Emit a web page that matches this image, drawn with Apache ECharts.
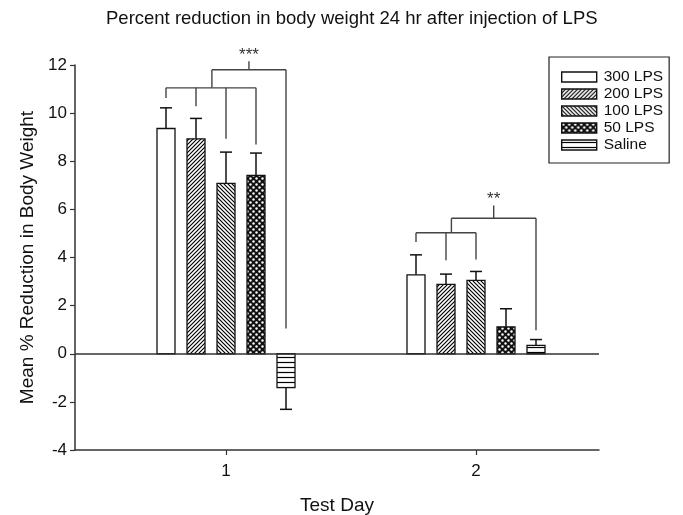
<!DOCTYPE html>
<html>
<head>
<meta charset="utf-8">
<script src="https://cdn.jsdelivr.net/npm/echarts@6/dist/echarts.min.js"></script>
<style>
  html, body { margin: 0; padding: 0; background: #fff; }
  #main { width: 683px; height: 515px; }
</style>
</head>
<body>
<div id="main"></div>
<script>
// groups and days
var days = [1, 2]
var groupNames = ['300 LPS', '200 LPS', '100 LPS', '50 LPS', 'Saline']

// mean % reduction and SEM, day 1 / day 2
var mean300 = [9.36, 3.28]
var sem300 = [0.86, 0.83]
var mean200 = [8.93, 2.88]
var sem200 = [0.85, 0.43]
var mean100 = [7.08, 3.05]
var sem100 = [1.30, 0.37]
var mean50 = [7.41, 1.12]
var sem50 = [0.93, 0.75]
var meanSaline = [-1.41, 0.35]
var semSaline = [0.90, 0.24]

// significance brackets (y values)
var sigDay = [1, 2]
var sigInner = [11.05, 5.03]
var sigOuter = [11.8, 5.63]
var sigTop = [12.16, 6.16]
var sigLegs = [[10.63, 10.29, 8.93, 8.70], [4.64, 3.89, 3.92]]
var sigSalineLeg = [1.05, 0.98]
var sigStemSlot = [1.53, 1.18]
var sigStars = ['***', '**']

var yTicks = [-4, -2, 0, 2, 4, 6, 8, 10, 12]

var SLOT = 0.12   // distance between bars, in x-axis units
var BAR_W = 18

// fill patterns
function makePattern(kind) {
  var c = document.createElement('canvas')
  var s = kind === 'dots' ? 6 : (kind === 'horiz' ? 5 : 4)
  c.width = s
  c.height = s
  var g = c.getContext('2d')
  g.fillStyle = '#fff'
  g.fillRect(0, 0, s, s)
  g.strokeStyle = '#000'
  g.lineWidth = 1.2
  if (kind === 'fwd') {
    g.beginPath()
    g.moveTo(-1, s + 1); g.lineTo(s + 1, -1)
    g.moveTo(-1, 1); g.lineTo(1, -1)
    g.moveTo(s - 1, s + 1); g.lineTo(s + 1, s - 1)
    g.stroke()
  } else if (kind === 'back') {
    g.beginPath()
    g.moveTo(-1, -1); g.lineTo(s + 1, s + 1)
    g.moveTo(s - 1, -1); g.lineTo(s + 1, 1)
    g.moveTo(-1, s - 1); g.lineTo(1, s + 1)
    g.stroke()
  } else if (kind === 'dots') {
    g.fillStyle = '#111'
    g.fillRect(0, 0, s, s)
    g.fillStyle = '#fff'
    g.beginPath(); g.arc(1.5, 1.5, 1.2, 0, Math.PI * 2); g.fill()
    g.beginPath(); g.arc(4.5, 4.5, 1.2, 0, Math.PI * 2); g.fill()
  } else if (kind === 'horiz') {
    g.beginPath()
    g.moveTo(0, 2.5); g.lineTo(s, 2.5)
    g.stroke()
  }
  return { image: c, repeat: 'repeat' }
}

var patterns = [
  '#fff',
  makePattern('fwd'),
  makePattern('back'),
  makePattern('dots'),
  makePattern('horiz')
]

var allMeans = [mean300, mean200, mean100, mean50, meanSaline]
var allSems = [sem300, sem200, sem100, sem50, semSaline]

function barRender(slot) {
  return function(params, api) {
    var day = api.value(0)
    var mean = api.value(1)
    var sem = api.value(2)
    var x = day + (slot - 2) * SLOT
    var base = api.coord([x, 0])
    var top = api.coord([x, mean])
    var errEnd = api.coord([x, mean + (mean < 0 ? -sem : sem)])
    var cx = base[0]
    return {
      type: 'group',
      children: [{
        type: 'line',
        shape: { x1: cx, y1: top[1], x2: cx, y2: errEnd[1] },
        style: { stroke: '#111', lineWidth: 1.5 }
      }, {
        type: 'line',
        shape: { x1: cx - 6, y1: errEnd[1], x2: cx + 6, y2: errEnd[1] },
        style: { stroke: '#111', lineWidth: 1.5 }
      }, {
        type: 'rect',
        shape: { x: cx - BAR_W / 2, y: Math.min(base[1], top[1]), width: BAR_W, height: Math.abs(top[1] - base[1]) },
        style: { fill: patterns[slot], stroke: '#111', lineWidth: 1.3 }
      }]
    }
  }
}

function sigRender(params, api) {
  var i = params.dataIndex
  var day = sigDay[i]
  var lc = '#444'
  function P(slot, y) { return api.coord([day + (slot - 2) * SLOT, y]) }
  function seg(a, b) {
    return { type: 'line', shape: { x1: a[0], y1: a[1], x2: b[0], y2: b[1] }, style: { stroke: lc, lineWidth: 1.4 } }
  }
  var legs = sigLegs[i]
  var children = []
  children.push(seg(P(0, sigInner[i]), P(legs.length - 1, sigInner[i])))
  for (var k = 0; k < legs.length; k++) {
    children.push(seg(P(k, sigInner[i]), P(k, legs[k])))
  }
  var stem = sigStemSlot[i]
  children.push(seg(P(stem, sigInner[i]), P(stem, sigOuter[i])))
  children.push(seg(P(stem, sigOuter[i]), P(4, sigOuter[i])))
  children.push(seg(P(4, sigOuter[i]), P(4, sigSalineLeg[i])))
  var mid = (stem + 4) / 2
  var topP = P(mid, sigTop[i])
  children.push(seg(P(mid, sigOuter[i]), topP))
  children.push({
    type: 'text',
    style: {
      text: sigStars[i], x: topP[0], y: topP[1] - 6,
      align: 'center', verticalAlign: 'middle',
      fontSize: 17, fill: '#333', fontFamily: 'Liberation Sans'
    }
  })
  return { type: 'group', children: children }
}

var series = groupNames.map(function(name, slot) {
  return {
    name: name,
    type: 'custom',
    renderItem: barRender(slot),
    itemStyle: { color: patterns[slot], borderColor: '#111', borderWidth: 1.3 },
    encode: { x: 0, y: 1 },
    data: days.map(function(d, j) { return [d, allMeans[slot][j], allSems[slot][j]] }),
    z: 3
  }
})

series.push({
  name: 'sig',
  type: 'custom',
  renderItem: sigRender,
  encode: { x: 0, y: 1 },
  data: sigDay.map(function(d, i) { return [d, sigTop[i]] }),
  silent: true,
  z: 2,
  markLine: {
    silent: true,
    symbol: 'none',
    label: { show: false },
    lineStyle: { color: '#333', width: 1.5, type: 'solid' },
    data: [{ yAxis: 0 }]
  }
})

var myChart = echarts.init(document.getElementById('main'))
myChart.setOption({
  animation: false,
  backgroundColor: '#fff',
  textStyle: { fontFamily: 'Liberation Sans' },
  title: {
    text: 'Percent reduction in body weight 24 hr after injection of LPS',
    left: 101,
    top: 4,
    textStyle: { fontSize: 18.5, fontWeight: 'normal', color: '#111', fontFamily: 'Liberation Sans' }
  },
  legend: {
    data: groupNames,
    orient: 'vertical',
    left: 549,
    top: 57,
    icon: 'rect',
    itemWidth: 35,
    itemHeight: 10,
    itemGap: 1,
    padding: [12, 6, 10, 12],
    borderColor: '#222',
    borderWidth: 1.2,
    itemStyle: { borderColor: '#111', borderWidth: 1.4 },
    textStyle: { fontSize: 15.5, color: '#111', fontFamily: 'Liberation Sans', padding: [0, 0, 0, 2] }
  },
  grid: { left: 75, right: 84, top: 65, bottom: 65, outerBoundsMode: 'none' },
  xAxis: {
    type: 'value',
    min: 0.396,
    max: 2.492,
    name: 'Test Day',
    nameLocation: 'middle',
    nameGap: 46,
    nameTextStyle: { fontSize: 19, color: '#111' },
    axisLine: { onZero: false, lineStyle: { color: '#333', width: 1.5 } },
    axisTick: { length: 5, customValues: days, lineStyle: { color: '#333', width: 1.2 } },
    axisLabel: { customValues: days, fontSize: 17, color: '#111', margin: 13 },
    splitLine: { show: false }
  },
  yAxis: {
    type: 'value',
    min: yTicks[0],
    max: yTicks[yTicks.length - 1],
    interval: 2,
    name: 'Mean % Reduction in Body Weight',
    nameLocation: 'middle',
    nameGap: 25,
    nameTextStyle: { fontSize: 19, color: '#111' },
    axisLine: { show: true, lineStyle: { color: '#333', width: 1.5 } },
    axisTick: { show: true, length: 5, lineStyle: { color: '#333', width: 1.2 } },
    axisLabel: { fontSize: 17, color: '#111', margin: 8 },
    splitLine: { show: false }
  },
  series: series
})
</script>
</body>
</html>
